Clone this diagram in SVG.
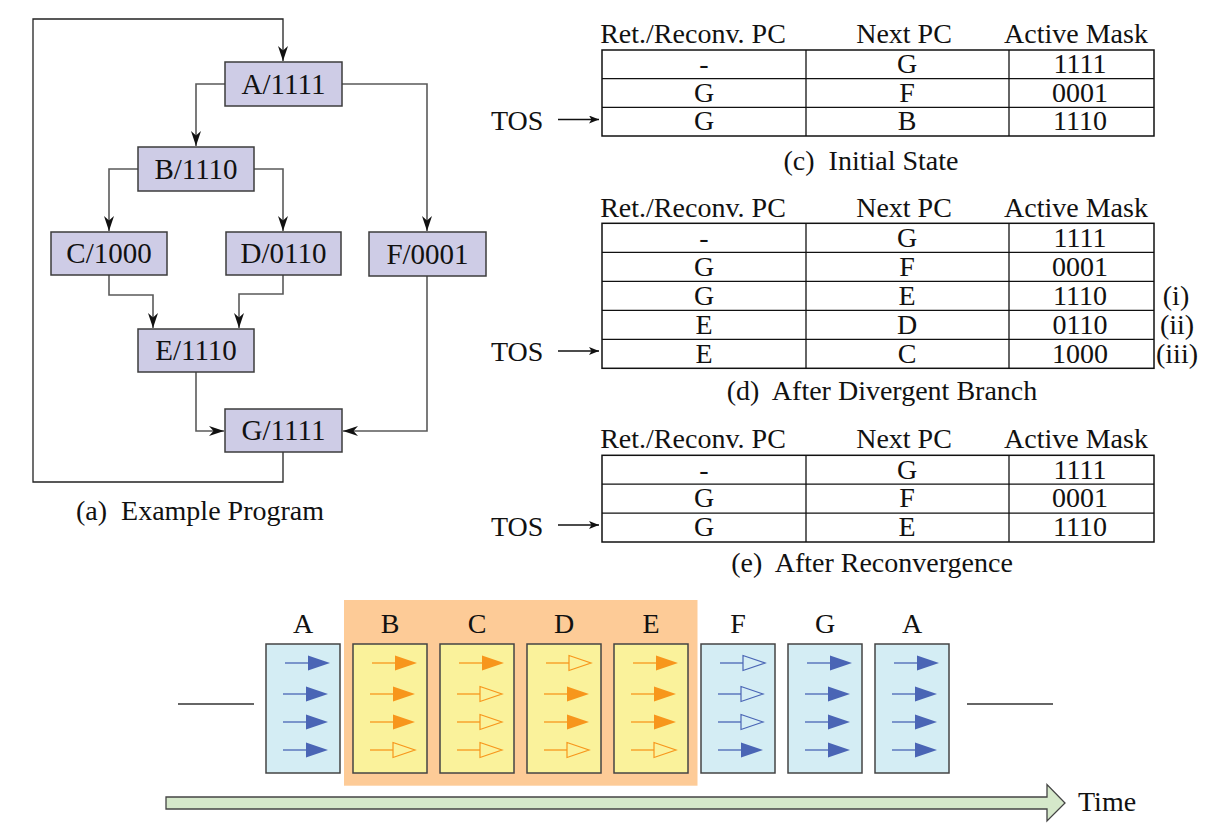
<svg xmlns="http://www.w3.org/2000/svg" width="1208" height="832" viewBox="0 0 1208 832">
<style>
text{font-family:"Liberation Serif","Times New Roman",serif;font-size:28px;fill:#111}
.m{text-anchor:middle}
.node rect{fill:#cecce6;stroke:#3c3c3c;stroke-width:1.5}
.node text{font-size:29px}
.conn path{fill:none;stroke:#5a5a5a;stroke-width:1.6}
.conn path.loop{stroke:#222;stroke-width:1.3}
.tbl line{stroke:#111;stroke-width:1.3}
.tbl rect{fill:none;stroke:#111;stroke-width:1.5}
.tos{stroke:#111;stroke-width:1.2;fill:none}
.slot{stroke:#444;stroke-width:1.5}
.bl{fill:#d4edf4}
.yl{fill:#faf29b}
.ab{stroke:#4a65b5;stroke-width:1.3}
.ao{stroke:#f7961c;stroke-width:1.3}
</style>
<defs>
<marker id="ah" viewBox="0 0 15 10" refX="15" refY="5" markerWidth="15" markerHeight="10" markerUnits="userSpaceOnUse" orient="auto">
<path d="M0,0 L15,5 L0,10 L4.5,5 z" fill="#111"/>
</marker>
<marker id="th" viewBox="0 0 10 8" refX="10" refY="4" markerWidth="10" markerHeight="8" markerUnits="userSpaceOnUse" orient="auto">
<path d="M0,0 L10,4 L0,8 L2.5,4 z" fill="#111"/>
</marker>
<g id="fb"><line class="ab" x1="17" y1="0" x2="41" y2="0"/><polygon points="40,-7.5 62,0 40,7.5" fill="#4a65b5"/></g>
<g id="hb"><line class="ab" x1="17" y1="0" x2="40" y2="0"/><polygon points="40,-7.5 62,0 40,7.5" fill="none" stroke="#4a65b5" stroke-width="1.2"/></g>
<g id="fo"><line class="ao" x1="17" y1="0" x2="41" y2="0"/><polygon points="40,-7.5 62,0 40,7.5" fill="#f7961c"/></g>
<g id="ho"><line class="ao" x1="17" y1="0" x2="40" y2="0"/><polygon points="40,-7.5 62,0 40,7.5" fill="none" stroke="#f7961c" stroke-width="1.2"/></g>
</defs>
<rect x="0" y="0" width="1208" height="832" fill="#fff"/>

<!-- (a) Example Program -->
<g id="connectors" class="conn">
<path class="loop" d="M283,452 V482 H33 V19 H283 V61" marker-end="url(#ah)"/>
<path d="M225,84 H196 V146" marker-end="url(#ah)"/>
<path d="M342,84 H427 V231" marker-end="url(#ah)"/>
<path d="M138,169 H109 V231" marker-end="url(#ah)"/>
<path d="M254,169 H283 V231" marker-end="url(#ah)"/>
<path d="M109,275 V295 H153 V328" marker-end="url(#ah)"/>
<path d="M283,275 V294 H239 V328" marker-end="url(#ah)"/>
<path d="M196,372 V431 H224" marker-end="url(#ah)"/>
<path d="M427,276 V431 H343" marker-end="url(#ah)"/>
</g>
<g id="nodeA" class="node"><rect x="225" y="62" width="117" height="44"/><text class="m" x="283.5" y="93.5">A/1111</text></g>
<g id="nodeB" class="node"><rect x="138" y="147" width="116" height="44"/><text class="m" x="196" y="178.5">B/1110</text></g>
<g id="nodeC" class="node"><rect x="51" y="232" width="116" height="43"/><text class="m" x="109" y="263">C/1000</text></g>
<g id="nodeD" class="node"><rect x="226" y="232" width="115" height="43"/><text class="m" x="283.5" y="263">D/0110</text></g>
<g id="nodeF" class="node"><rect x="369" y="232" width="117" height="44"/><text class="m" x="427.5" y="263.5">F/0001</text></g>
<g id="nodeE" class="node"><rect x="138" y="329" width="116" height="43"/><text class="m" x="196" y="360">E/1110</text></g>
<g id="nodeG" class="node"><rect x="225" y="409" width="117" height="43"/><text class="m" x="283.5" y="440">G/1111</text></g>
<text class="m" x="200" y="520" xml:space="preserve">(a)  Example Program</text>

<!-- (c) Initial State -->
<g id="tableC" class="tbl">
<text class="m" x="693" y="43.3">Ret./Reconv. PC</text>
<text class="m" x="904" y="43.3">Next PC</text>
<text class="m" x="1076" y="43.3">Active Mask</text>
<rect x="602" y="50" width="552" height="86"/>
<line x1="602" y1="78.7" x2="1154" y2="78.7"/>
<line x1="602" y1="107.3" x2="1154" y2="107.3"/>
<line x1="806" y1="50" x2="806" y2="136"/>
<line x1="1009" y1="50" x2="1009" y2="136"/>
<text class="m" x="704" y="73">-</text><text class="m" x="907" y="73">G</text><text class="m" x="1080" y="73">1111</text>
<text class="m" x="704" y="101.7">G</text><text class="m" x="907" y="101.7">F</text><text class="m" x="1080" y="101.7">0001</text>
<text class="m" x="704" y="130.3">G</text><text class="m" x="907" y="130.3">B</text><text class="m" x="1080" y="130.3">1110</text>
<text x="491" y="129.5">TOS</text>
<line class="tos" x1="558" y1="119.5" x2="599" y2="119.5" marker-end="url(#th)"/>
<text class="m" x="871" y="170" xml:space="preserve">(c)  Initial State</text>
</g>

<!-- (d) After Divergent Branch -->
<g id="tableD" class="tbl">
<text class="m" x="693" y="216.7">Ret./Reconv. PC</text>
<text class="m" x="904" y="216.7">Next PC</text>
<text class="m" x="1076" y="216.7">Active Mask</text>
<rect x="602" y="223.3" width="552" height="145"/>
<line x1="602" y1="252.3" x2="1154" y2="252.3"/>
<line x1="602" y1="281.3" x2="1154" y2="281.3"/>
<line x1="602" y1="310.3" x2="1154" y2="310.3"/>
<line x1="602" y1="339.3" x2="1154" y2="339.3"/>
<line x1="806" y1="223.3" x2="806" y2="368.3"/>
<line x1="1009" y1="223.3" x2="1009" y2="368.3"/>
<text class="m" x="704" y="246.5">-</text><text class="m" x="907" y="246.5">G</text><text class="m" x="1080" y="246.5">1111</text>
<text class="m" x="704" y="275.5">G</text><text class="m" x="907" y="275.5">F</text><text class="m" x="1080" y="275.5">0001</text>
<text class="m" x="704" y="304.5">G</text><text class="m" x="907" y="304.5">E</text><text class="m" x="1080" y="304.5">1110</text>
<text class="m" x="704" y="333.5">E</text><text class="m" x="907" y="333.5">D</text><text class="m" x="1080" y="333.5">0110</text>
<text class="m" x="704" y="362.5">E</text><text class="m" x="907" y="362.5">C</text><text class="m" x="1080" y="362.5">1000</text>
<text class="m" x="1176" y="304.5">(i)</text>
<text class="m" x="1177" y="333.5">(ii)</text>
<text class="m" x="1177" y="362.5">(iii)</text>
<text x="491" y="361">TOS</text>
<line class="tos" x1="558" y1="351" x2="599" y2="351" marker-end="url(#th)"/>
<text class="m" x="882" y="400" xml:space="preserve">(d)  After Divergent Branch</text>
</g>

<!-- (e) After Reconvergence -->
<g id="tableE" class="tbl">
<text class="m" x="693" y="448.3">Ret./Reconv. PC</text>
<text class="m" x="904" y="448.3">Next PC</text>
<text class="m" x="1076" y="448.3">Active Mask</text>
<rect x="602" y="455.3" width="552" height="86.7"/>
<line x1="602" y1="484.2" x2="1154" y2="484.2"/>
<line x1="602" y1="513.1" x2="1154" y2="513.1"/>
<line x1="806" y1="455.3" x2="806" y2="542"/>
<line x1="1009" y1="455.3" x2="1009" y2="542"/>
<text class="m" x="704" y="478.5">-</text><text class="m" x="907" y="478.5">G</text><text class="m" x="1080" y="478.5">1111</text>
<text class="m" x="704" y="507.4">G</text><text class="m" x="907" y="507.4">F</text><text class="m" x="1080" y="507.4">0001</text>
<text class="m" x="704" y="536.3">G</text><text class="m" x="907" y="536.3">E</text><text class="m" x="1080" y="536.3">1110</text>
<text x="491" y="535.5">TOS</text>
<line class="tos" x1="558" y1="525" x2="599" y2="525" marker-end="url(#th)"/>
<text class="m" x="872" y="572" xml:space="preserve">(e)  After Reconvergence</text>
</g>

<!-- Timeline -->
<g id="timeline">
<rect x="344" y="600" width="353.5" height="185.7" fill="#fdcb97"/>
<line x1="178" y1="704" x2="254" y2="704" stroke="#333" stroke-width="1.3"/>
<line x1="967" y1="704" x2="1053" y2="704" stroke="#333" stroke-width="1.3"/>

<g id="slot0"><rect class="slot bl" x="266" y="644" width="74" height="129"/><text class="m" x="303" y="633">A</text>
<use href="#fb" x="268" y="663"/><use href="#fb" x="266" y="694"/><use href="#fb" x="266" y="722"/><use href="#fb" x="266" y="750"/></g>
<g id="slot1"><rect class="slot yl" x="353" y="644" width="74" height="129"/><text class="m" x="390" y="633">B</text>
<use href="#fo" x="355" y="663"/><use href="#fo" x="353" y="694"/><use href="#fo" x="353" y="722"/><use href="#ho" x="353" y="750"/></g>
<g id="slot2"><rect class="slot yl" x="440" y="644" width="74" height="129"/><text class="m" x="477" y="633">C</text>
<use href="#fo" x="442" y="663"/><use href="#ho" x="440" y="694"/><use href="#ho" x="440" y="722"/><use href="#ho" x="440" y="750"/></g>
<g id="slot3"><rect class="slot yl" x="527" y="644" width="74" height="129"/><text class="m" x="564" y="633">D</text>
<use href="#ho" x="529" y="663"/><use href="#fo" x="527" y="694"/><use href="#fo" x="527" y="722"/><use href="#ho" x="527" y="750"/></g>
<g id="slot4"><rect class="slot yl" x="614" y="644" width="74" height="129"/><text class="m" x="651" y="633">E</text>
<use href="#fo" x="616" y="663"/><use href="#fo" x="614" y="694"/><use href="#fo" x="614" y="722"/><use href="#ho" x="614" y="750"/></g>
<g id="slot5"><rect class="slot bl" x="701" y="644" width="74" height="129"/><text class="m" x="738" y="633">F</text>
<use href="#hb" x="703" y="663"/><use href="#hb" x="701" y="694"/><use href="#hb" x="701" y="722"/><use href="#fb" x="701" y="750"/></g>
<g id="slot6"><rect class="slot bl" x="788" y="644" width="74" height="129"/><text class="m" x="825" y="633">G</text>
<use href="#fb" x="790" y="663"/><use href="#fb" x="788" y="694"/><use href="#fb" x="788" y="722"/><use href="#fb" x="788" y="750"/></g>
<g id="slot7"><rect class="slot bl" x="875" y="644" width="74" height="129"/><text class="m" x="912" y="633">A</text>
<use href="#fb" x="877" y="663"/><use href="#fb" x="875" y="694"/><use href="#fb" x="875" y="722"/><use href="#fb" x="875" y="750"/></g>

<polygon points="166,797 1047,797 1047,784.5 1065,803 1047,821 1047,809 166,809" fill="#d5e8ca" stroke="#444" stroke-width="1.3"/>
<text x="1078" y="811">Time</text>
</g>
</svg>
